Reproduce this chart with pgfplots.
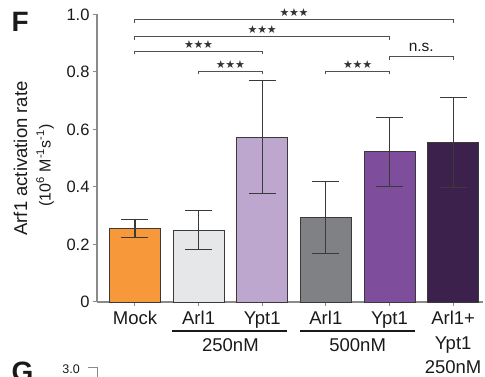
\documentclass[border=0pt]{standalone}
\usepackage{pgfplots}
\pgfplotsset{compat=1.18}
\usepackage{fontspec}
\setmainfont{Liberation Sans}
\newfontfamily\dejavu{DejaVu Sans}
\definecolor{cMock}{HTML}{F7993B}
\definecolor{cArlA}{HTML}{E6E7E8}
\definecolor{cYptA}{HTML}{BDA7CF}
\definecolor{cArlB}{HTML}{808184}
\definecolor{cYptB}{HTML}{7E4E9C}
\definecolor{cBoth}{HTML}{3D214D}
\definecolor{edge}{HTML}{3A3A3A}
\definecolor{axgray}{HTML}{8A8A8A}
\definecolor{txt}{HTML}{1A1A1A}
\definecolor{brk}{HTML}{505050}
\definecolor{starc}{HTML}{333333}
\newcommand\fs[2]{\fontsize{#1}{#2}\selectfont}
\newcommand\stars{{\dejavu\fs{11}{12}\char"2605\kern-0.3pt\char"2605\kern-0.3pt\char"2605}}
\begin{document}
\begin{tikzpicture}[x=1pt,y=1pt]
\path[use as bounding box] (0,0) rectangle (485,377);
\begin{axis}[
  at={(97pt,75pt)}, anchor=south west,
  scale only axis, width=386pt, height=287.5pt,
  xmin=-0.597, xmax=5.47, ymin=0, ymax=1,
  axis x line*=bottom, axis y line*=left,
  axis line style={draw=axgray, line width=1.1pt, -},
  tick align=outside, major tick length=4pt,
  tick style={draw=axgray, line width=1pt},
  ytick={0,0.2,0.4,0.6,0.8,1.0},
  yticklabels={0,0.2,0.4,0.6,0.8,1.0},
  yticklabel style={font=\fs{16.5}{19}, text=txt},
  xtick={0,1,2,3,4,5},
  xticklabels={Mock,Arl1,Ypt1,Arl1,Ypt1,{Arl1+\\Ypt1\\250nM}},
  xticklabel style={font=\fs{18.5}{24.2}, text=txt, align=center, anchor=north, yshift=-2pt},
  clip=false,
  error bars/y dir=both, error bars/y explicit,
  error bars/error bar style={draw=edge, line width=1.1pt},
  error bars/error mark options={draw=edge, line width=1.1pt, mark size=13.5pt, rotate=90},
  every axis plot/.append style={ybar, bar width=51pt, bar shift=0pt, draw=edge, line width=0.9pt},
]
\addplot[fill=cMock] coordinates {(0,0.255) +- (0,0.032)};
\addplot[fill=cArlA] coordinates {(1,0.250) +- (0,0.068)};
\addplot[fill=cYptA] coordinates {(2,0.574) +- (0,0.197)};
\addplot[fill=cArlB] coordinates {(3,0.295) +- (0,0.125)};
\addplot[fill=cYptB] coordinates {(4,0.523) +- (0,0.120)};
\addplot[fill=cBoth] coordinates {(5,0.555) +- (0,0.156)};
% significance brackets
\tikzset{brk/.style={draw=brk, line width=1pt}}
\draw[brk] (axis cs:0,0.971) -- (axis cs:0,0.981) -- (axis cs:5,0.981) -- (axis cs:5,0.971);
\node[anchor=base, inner sep=0, text=starc] at ([yshift=3pt]axis cs:2.5,0.981) {\stars};
\draw[brk] (axis cs:0,0.912) -- (axis cs:0,0.922) -- (axis cs:4,0.922) -- (axis cs:4,0.912);
\node[anchor=base, inner sep=0, text=starc] at ([yshift=3pt]axis cs:2,0.922) {\stars};
\draw[brk] (axis cs:0,0.861) -- (axis cs:0,0.871) -- (axis cs:2,0.871) -- (axis cs:2,0.861);
\node[anchor=base, inner sep=0, text=starc] at ([yshift=3pt]axis cs:1,0.871) {\stars};
\draw[brk] (axis cs:1,0.793) -- (axis cs:1,0.803) -- (axis cs:2,0.803) -- (axis cs:2,0.793);
\node[anchor=base, inner sep=0, text=starc] at ([yshift=3pt]axis cs:1.5,0.803) {\stars};
\draw[brk] (axis cs:3,0.793) -- (axis cs:3,0.803) -- (axis cs:4,0.803) -- (axis cs:4,0.793);
\node[anchor=base, inner sep=0, text=starc] at ([yshift=3pt]axis cs:3.5,0.803) {\stars};
\draw[brk] (axis cs:4,0.843) -- (axis cs:4,0.853) -- (axis cs:5,0.853) -- (axis cs:5,0.843);
\node[anchor=base, inner sep=0, text=txt, font=\fs{15.5}{17}] at ([yshift=5.2pt]axis cs:4.5,0.853) {n.s.};
% group labels
\draw[draw=txt, line width=1.4pt] (axis cs:0.58,-0.1009) -- (axis cs:2.39,-0.1009);
\draw[draw=txt, line width=1.4pt] (axis cs:2.59,-0.1009) -- (axis cs:4.40,-0.1009);
\node[anchor=base, inner sep=0, text=txt, font=\fs{18.5}{21}] at (axis cs:1.5,-0.1722) {250nM};
\node[anchor=base, inner sep=0, text=txt, font=\fs{18.5}{21}] at (axis cs:3.5,-0.1722) {500nM};
\end{axis}
% y label
\node[rotate=90, anchor=base, inner sep=0, text=txt, font=\fs{18.5}{21}] at (27,218.5) {Arf1 activation rate};
\node[rotate=90, anchor=base, inner sep=0, text=txt, font=\fs{16}{19}] at (50.5,211.5) {(10\textsuperscript{6} M\textsuperscript{-1}s\textsuperscript{-1})};
% panel letters
\node[anchor=base west, inner sep=0, text=txt, font=\fs{28}{30}\bfseries] at (11.5,345.3) {F};
\node[anchor=base west, inner sep=0, text=txt, font=\fs{28}{30}\bfseries] at (11.5,-5) {G};
\node[anchor=base east, inner sep=0, text=txt, font=\fs{12.5}{14}] at (80,3) {3.0};
\draw[draw=axgray, line width=1pt] (88,9) -- (97,9) -- (97,0);
\end{tikzpicture}
\end{document}
